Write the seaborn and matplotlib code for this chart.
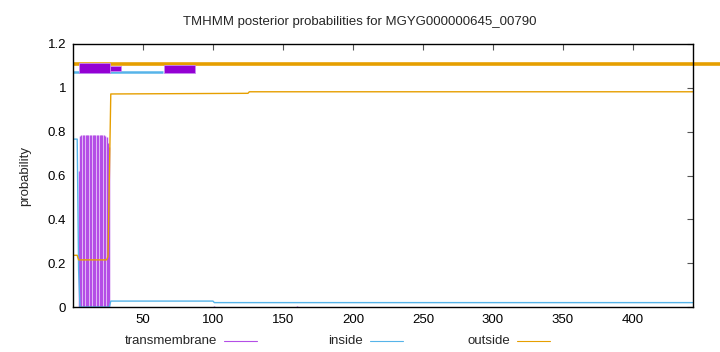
import numpy as np
import pandas as pd
import matplotlib.pyplot as plt
import seaborn as sns
from matplotlib.lines import Line2D

TITLE = "TMHMM posterior probabilities for MGYG000000645_00790"
SEQ_LEN = 443

# per-residue posteriors (positions past the last point keep the last value)
tm_pos = list(range(1, 31)) + [100, 101, 160, 161, 443]
tm_val = [0.0, 0.0, 0.0, 0.62, 0.78, 0.785, 0.785, 0.785, 0.785, 0.785,
          0.785, 0.785, 0.785, 0.785, 0.785, 0.785, 0.785, 0.785, 0.785, 0.785,
          0.785, 0.785, 0.78, 0.775, 0.75, 0.73, 0.0, 0.0, 0.0, 0.0,
          0.0, 0.006, 0.006, 0.0, 0.0]

in_pos = [1, 2, 3, 4, 5, 26, 27, 100, 101, 443]
in_val = [0.766, 0.766, 0.766, 0.17, 0.0, 0.0, 0.027, 0.027, 0.02, 0.02]

out_pos = [1, 2, 3, 4, 24, 25, 26, 27, 125, 126, 443]
out_val = [0.236, 0.236, 0.236, 0.215, 0.215, 0.23, 0.6, 0.972, 0.975, 0.982, 0.982]

# topology strip above the plot
tm_boxes = [(4.3, 26.4, 1.068, 1.114), (26.4, 34.0, 1.078, 1.100), (65.0, 87.0, 1.067, 1.106)]
inside_seg = (0, 64, 1.072)
outside_seg = (0, 462, 1.111)

labels = ["transmembrane", "inside", "outside"]

C_TM = "#9400d3"
C_TM_IMP = "#b44ee6"
C_IN = "#56b4e9"
C_OUT = "#e69f00"

sns.set_style("white")
plt.rcParams["font.family"] = ["Liberation Sans", "DejaVu Sans"]
plt.rcParams["font.size"] = 9.5

W, H = 720, 352
fig = plt.figure(figsize=(W / 100, H / 100), dpi=100)
ax = fig.add_axes([73 / W, 45 / H, 620 / W, 263 / H])

# transmembrane as impulses
ax.vlines(tm_pos, 0, tm_val, color=C_TM_IMP, lw=1.05)

df_in = pd.DataFrame({"pos": in_pos, "p": in_val})
df_out = pd.DataFrame({"pos": out_pos, "p": out_val})
sns.lineplot(data=df_in, x="pos", y="p", color=C_IN, lw=1.0, ax=ax)
sns.lineplot(data=df_out, x="pos", y="p", color=C_OUT, lw=1.0, ax=ax)

# strip
ax.plot([outside_seg[0], outside_seg[1]], [outside_seg[2]] * 2, color=C_OUT, lw=2.6,
        solid_capstyle="butt", clip_on=False)
ax.plot([inside_seg[0], inside_seg[1]], [inside_seg[2]] * 2, color=C_IN, lw=1.8,
        solid_capstyle="butt")
for x0, x1, y0, y1 in tm_boxes:
    ax.barh(y=(y0 + y1) / 2, width=x1 - x0, left=x0, height=y1 - y0,
            color=C_TM, edgecolor="#c88af0", lw=0.6, zorder=4)

ax.set_xlim(0, SEQ_LEN)
ax.set_ylim(0, 1.2)
ax.set_xticks(np.arange(50, 401, 50))
ax.set_yticks([0, 0.2, 0.4, 0.6, 0.8, 1.0, 1.2])
ax.set_yticklabels(["0", "0.2", "0.4", "0.6", "0.8", "1", "1.2"])
ax.tick_params(direction="in", length=4, width=0.8, top=True, right=True, color="#555555",
               labelsize=9.5, labelcolor="black", pad=5)
for s in ax.spines.values():
    s.set_color("black")
    s.set_linewidth(1.0)
ax.set_xlabel("")
ax.set_ylabel("probability", fontsize=9.5, labelpad=12)
fig.text(0.5, 1 - 22 / H, TITLE, ha="center", va="center", fontsize=9.5)

# gnuplot-style key: right-aligned text followed by a short sample line
key_y = 1 - 341 / H
key_text_right = [217, 363, 510]
key_colors = [C_TM_IMP, C_IN, C_OUT]
for lab, xr, c in zip(labels, key_text_right, key_colors):
    fig.text(xr / W, key_y, lab, ha="right", va="center", fontsize=9.5)
    fig.add_artist(Line2D([(xr + 7) / W, (xr + 40) / W], [key_y, key_y], color=c, lw=0.8))

fig.savefig("out.png", dpi=100)
